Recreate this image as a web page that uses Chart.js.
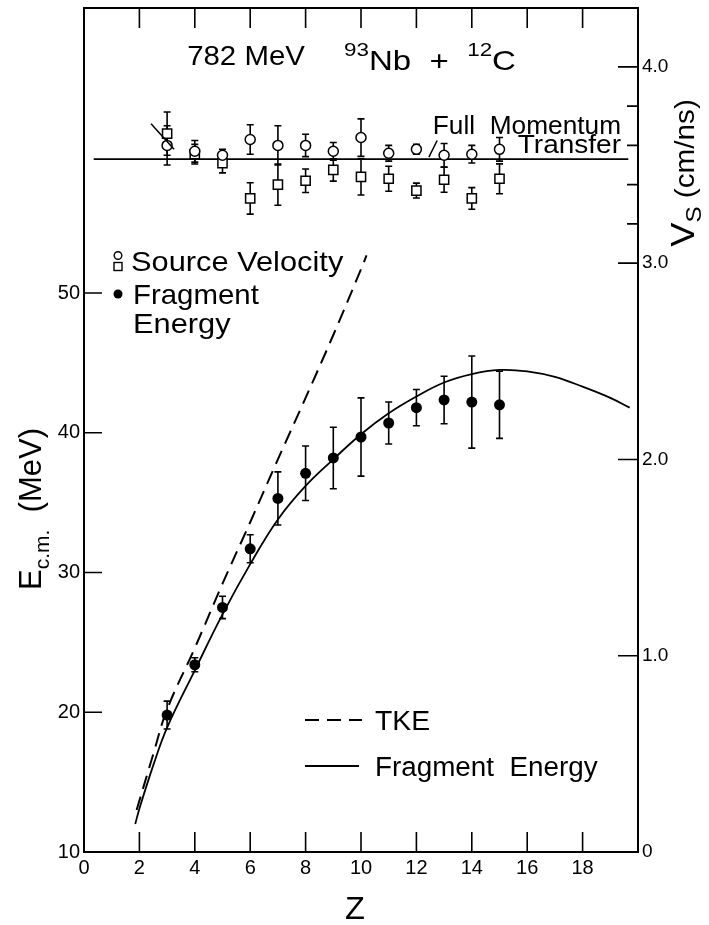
<!DOCTYPE html>
<html>
<head>
<meta charset="utf-8">
<script src="https://cdn.jsdelivr.net/npm/chart.js@4.4.0/dist/chart.umd.min.js"></script>
<style>
  html, body { margin: 0; padding: 0; background: #fff; }
  #marco { width: 709px; height: 925px; }
</style>
</head>
<body>
<div id="marco"><canvas id="miGrafico" width="709" height="925"></canvas></div>
<script>
// Datos
const zFrag = [3, 4, 5, 6, 7, 8, 9, 10, 11, 12, 13, 14, 15];
const eFrag = [19.8, 23.4, 27.5, 31.7, 35.3, 37.1, 38.2, 39.7, 40.7, 41.8, 42.35, 42.2, 42.0];
const eFragErr = [1.0, 0.5, 0.8, 1.0, 1.9, 1.95, 2.2, 2.8, 1.5, 1.3, 1.7, 3.3, 2.4];

// velocidad de la fuente (cm/ns): circulos y cuadrados
const vCirc = [3.60, 3.57, 3.55, 3.63, 3.60, 3.60, 3.57, 3.64, 3.56, 3.58, 3.55, 3.555, 3.58];
const vCircErr = [0.10, 0.055, 0.03, 0.075, 0.10, 0.057, 0.045, 0.095, 0.04, 0.025, 0.06, 0.045, 0.06];
const vCuad = [3.66, 3.555, 3.51, 3.33, 3.40, 3.42, 3.475, 3.44, 3.43, 3.37, 3.425, 3.33, 3.43];
const vCuadErr = [0.11, 0.05, 0.05, 0.08, 0.105, 0.06, 0.057, 0.093, 0.064, 0.038, 0.064, 0.055, 0.076];

// curvas
const zTke = [1.9, 2.5, 3, 4, 5, 6, 7, 8, 9, 10, 10.2];
const eTke = [13.0, 17.0, 20.2, 24.6, 29.2, 33.6, 38.1, 42.5, 47.0, 51.7, 52.7];
const zFit = [1.85, 2, 2.5, 3, 4, 5, 6, 7, 8, 9, 10, 11, 12, 13, 14, 15, 16, 17, 18, 19, 19.7];
const eFit = [12.0, 13.1, 16.2, 18.9, 23.0, 27.0, 30.6, 33.8, 36.2, 38.1, 39.9, 41.4, 42.6, 43.6, 44.2, 44.5, 44.4, 44.0, 43.3, 42.5, 41.8];

// transferencia completa de momento
const vTotal = 3.53;
const zLineaTotal = [0.35, 19.65];

// marcas de los ejes
const xMarcas = [0, 2, 4, 6, 8, 10, 12, 14, 16, 18];
const eMarcas = [10, 20, 30, 40, 50];
const vMarcas = [0, 1, 2, 3, 4];
const vMenores = [3.2, 3.4, 3.6, 3.8];

const fuente = '"Liberation Sans", Arial, Helvetica, sans-serif';

function puntos(xs, ys) {
    return xs.map((x, i) => ({ x: x, y: ys[i] }));
}

// escribe un texto compuesto (con sub/superindices), k = estiramiento horizontal
function texto(ctx, partes, x, y, alinear, k) {
    k = k || 1;
    let total = 0;
    for (const p of partes) {
        ctx.font = p.size + 'px ' + fuente;
        p.w = ctx.measureText(p.t).width;
        total += p.w;
    }
    let cx = 0;
    if (alinear === 'center') cx = -total / 2;
    if (alinear === 'right') cx = -total;
    ctx.save();
    ctx.translate(x, y);
    ctx.scale(k, 1);
    ctx.textAlign = 'left';
    ctx.textBaseline = 'alphabetic';
    for (const p of partes) {
        ctx.font = p.size + 'px ' + fuente;
        ctx.fillText(p.t, cx, p.dy || 0);
        cx += p.w;
    }
    ctx.restore();
}

const adornos = {
    id: 'adornos',
    beforeDatasetsDraw(chart) {
        const ctx = chart.ctx;
        const sx = chart.scales.x, sy = chart.scales.y, sv = chart.scales.y2;
        ctx.save();
        ctx.strokeStyle = '#000';
        ctx.lineWidth = 1.6;
        // barras de error
        function barra(z, c, err, escala) {
            const px = sx.getPixelForValue(z);
            const y1 = escala.getPixelForValue(c - err);
            const y2 = escala.getPixelForValue(c + err);
            ctx.beginPath();
            ctx.moveTo(px, y1); ctx.lineTo(px, y2);
            ctx.moveTo(px - 3.5, y1); ctx.lineTo(px + 3.5, y1);
            ctx.moveTo(px - 3.5, y2); ctx.lineTo(px + 3.5, y2);
            ctx.stroke();
        }
        for (let i = 0; i < zFrag.length; i++) {
            barra(zFrag[i], eFrag[i], eFragErr[i], sy);
            barra(zFrag[i], vCirc[i], vCircErr[i], sv);
            barra(zFrag[i], vCuad[i], vCuadErr[i], sv);
        }
        ctx.restore();
    },
    afterDraw(chart) {
        const ctx = chart.ctx;
        const a = chart.chartArea;
        const sx = chart.scales.x, sy = chart.scales.y, sv = chart.scales.y2;
        ctx.save();
        ctx.strokeStyle = '#000';
        ctx.fillStyle = '#000';

        // marco
        ctx.lineWidth = 2;
        ctx.strokeRect(a.left, a.top, a.right - a.left, a.bottom - a.top);

        // marcas hacia adentro
        ctx.lineWidth = 1.6;
        ctx.beginPath();
        for (const v of xMarcas) {
            if (v === 0) continue;
            const px = sx.getPixelForValue(v);
            ctx.moveTo(px, a.bottom); ctx.lineTo(px, a.bottom - 20);
            ctx.moveTo(px, a.top); ctx.lineTo(px, a.top + 20);
        }
        for (const v of eMarcas) {
            if (v === 10) continue;
            const py = sy.getPixelForValue(v);
            ctx.moveTo(a.left, py); ctx.lineTo(a.left + 18, py);
        }
        for (const v of vMarcas) {
            if (v === 0) continue;
            const py = sv.getPixelForValue(v);
            ctx.moveTo(a.right, py); ctx.lineTo(a.right - 20, py);
        }
        for (const v of vMenores) {
            const py = sv.getPixelForValue(v);
            ctx.moveTo(a.right, py); ctx.lineTo(a.right - 11, py);
        }
        ctx.stroke();

        // flecha de "Full Momentum Transfer" y trazo en Z=3
        ctx.lineWidth = 1.5;
        ctx.beginPath();
        ctx.moveTo(sx.getPixelForValue(12.75), sv.getPixelForValue(3.625));
        ctx.lineTo(sx.getPixelForValue(12.45), sv.getPixelForValue(3.54));
        ctx.moveTo(sx.getPixelForValue(2.42), sv.getPixelForValue(3.71));
        ctx.lineTo(sx.getPixelForValue(3.25), sv.getPixelForValue(3.58));
        ctx.stroke();

        // textos
        texto(ctx, [{ t: '782 MeV', size: 28 }], 246, 65, 'center', 1.05);
        texto(ctx, [
            { t: '93', size: 19, dy: -14 },
            { t: 'Nb  +  ', size: 28 },
            { t: '12', size: 19, dy: -14 },
            { t: 'C', size: 28 }
        ], 344, 70, 'left', 1.18);
        texto(ctx, [{ t: 'Full  Momentum', size: 25 }], 621, 134, 'right', 1.05);
        texto(ctx, [{ t: 'Transfer', size: 25 }], 621, 153, 'right', 1.12);

        // leyenda superior
        texto(ctx, [{ t: 'Source Velocity', size: 28 }], 131, 271, 'left', 1.1);
        texto(ctx, [{ t: 'Fragment', size: 28 }], 133, 304, 'left', 1.05);
        texto(ctx, [{ t: 'Energy', size: 28 }], 133, 333, 'left', 1.1);
        ctx.lineWidth = 1.4;
        ctx.beginPath();
        ctx.arc(118, 255.5, 3.8, 0, Math.PI * 2);
        ctx.stroke();
        ctx.strokeRect(114, 262.5, 8, 8);
        ctx.beginPath();
        ctx.arc(118, 294, 4.5, 0, Math.PI * 2);
        ctx.fill();

        // leyenda inferior
        ctx.lineWidth = 2;
        ctx.setLineDash([14, 8]);
        ctx.beginPath();
        ctx.moveTo(305, 720); ctx.lineTo(362, 720);
        ctx.stroke();
        ctx.setLineDash([]);
        ctx.beginPath();
        ctx.moveTo(305, 766); ctx.lineTo(359, 766);
        ctx.stroke();
        texto(ctx, [{ t: 'TKE', size: 27 }], 375, 730, 'left', 1.05);
        texto(ctx, [{ t: 'Fragment  Energy', size: 27 }], 375, 776, 'left', 1.03);

        // titulos de los ejes
        texto(ctx, [{ t: 'Z', size: 31 }], 355, 919, 'center', 1.05);

        ctx.save();
        ctx.translate(41, 509);
        ctx.rotate(-Math.PI / 2);
        texto(ctx, [
            { t: 'E', size: 31 },
            { t: 'c.m.', size: 21, dy: 8 },
            { t: '  (MeV)', size: 31 }
        ], 0, 0, 'center');
        ctx.restore();

        ctx.save();
        ctx.translate(694, 173);
        ctx.rotate(-Math.PI / 2);
        texto(ctx, [
            { t: 'V', size: 33 },
            { t: 'S', size: 22, dy: 7 },
            { t: ' (cm/ns)', size: 27 }
        ], 0, 0, 'center', 1.1);
        ctx.restore();

        ctx.restore();
    }
};

function ancho(w) {
    return function (escala) {
        escala.width = w;
        escala.paddingTop = 0;
        escala.paddingBottom = 0;
    };
}

const ctx = document.getElementById('miGrafico').getContext('2d');

const miGrafico = new Chart(ctx, {
    type: 'scatter',
    data: {
        datasets: [
            {
                label: 'Fragment Energy',
                data: puntos(zFrag, eFrag),
                yAxisID: 'y',
                pointStyle: 'circle',
                pointRadius: 5.5,
                backgroundColor: '#000',
                borderColor: '#000',
                borderWidth: 0,
                order: 1
            },
            {
                label: 'Source Velocity (circulos)',
                data: puntos(zFrag, vCirc),
                yAxisID: 'y2',
                pointStyle: 'circle',
                pointRadius: 5,
                backgroundColor: '#fff',
                borderColor: '#000',
                borderWidth: 1.5,
                order: 2
            },
            {
                label: 'Source Velocity (cuadrados)',
                data: puntos(zFrag, vCuad),
                yAxisID: 'y2',
                pointStyle: 'rect',
                pointRadius: 6.5,
                backgroundColor: '#fff',
                borderColor: '#000',
                borderWidth: 1.5,
                order: 3
            },
            {
                label: 'Full Momentum Transfer',
                data: puntos(zLineaTotal, [vTotal, vTotal]),
                yAxisID: 'y2',
                showLine: true,
                pointRadius: 0,
                borderColor: '#000',
                borderWidth: 1.8,
                order: 4
            },
            {
                label: 'TKE',
                data: puntos(zTke, eTke),
                yAxisID: 'y',
                showLine: true,
                tension: 0.4,
                pointRadius: 0,
                borderColor: '#000',
                borderWidth: 2,
                borderDash: [14, 8],
                order: 5
            },
            {
                label: 'Fragment Energy (curva)',
                data: puntos(zFit, eFit),
                yAxisID: 'y',
                showLine: true,
                tension: 0.4,
                pointRadius: 0,
                borderColor: '#000',
                borderWidth: 1.8,
                order: 6
            }
        ]
    },
    options: {
        responsive: false,
        animation: false,
        devicePixelRatio: 1,
        layout: { padding: { top: 7, left: 0, right: 0, bottom: 0 } },
        plugins: {
            legend: { display: false },
            tooltip: { enabled: false }
        },
        scales: {
            x: {
                type: 'linear',
                min: 0,
                max: 20,
                afterBuildTicks: (s) => { s.ticks = xMarcas.map(v => ({ value: v })); },
                afterFit: (s) => { s.height = 73; s.paddingLeft = 0; s.paddingRight = 0; },
                grid: { display: false, drawTicks: false },
                border: { display: false },
                ticks: {
                    color: '#000',
                    padding: 4,
                    maxRotation: 0,
                    autoSkip: false,
                    font: { family: fuente, size: 20 }
                }
            },
            y: {
                type: 'linear',
                position: 'left',
                min: 10,
                max: 70.4,
                afterBuildTicks: (s) => { s.ticks = eMarcas.map(v => ({ value: v })); },
                afterFit: ancho(84),
                grid: { display: false, drawTicks: false },
                border: { display: false },
                ticks: {
                    color: '#000',
                    padding: 4,
                    font: { family: fuente, size: 20 }
                }
            },
            y2: {
                type: 'linear',
                position: 'right',
                min: 0,
                max: 4.30,
                afterBuildTicks: (s) => { s.ticks = vMarcas.map(v => ({ value: v })); },
                afterFit: ancho(71),
                grid: { display: false, drawTicks: false },
                border: { display: false },
                ticks: {
                    color: '#000',
                    padding: 4,
                    font: { family: fuente, size: 19 },
                    callback: (v) => v === 0 ? '0' : v.toFixed(1)
                }
            }
        }
    },
    plugins: [adornos]
});
</script>
</body>
</html>
